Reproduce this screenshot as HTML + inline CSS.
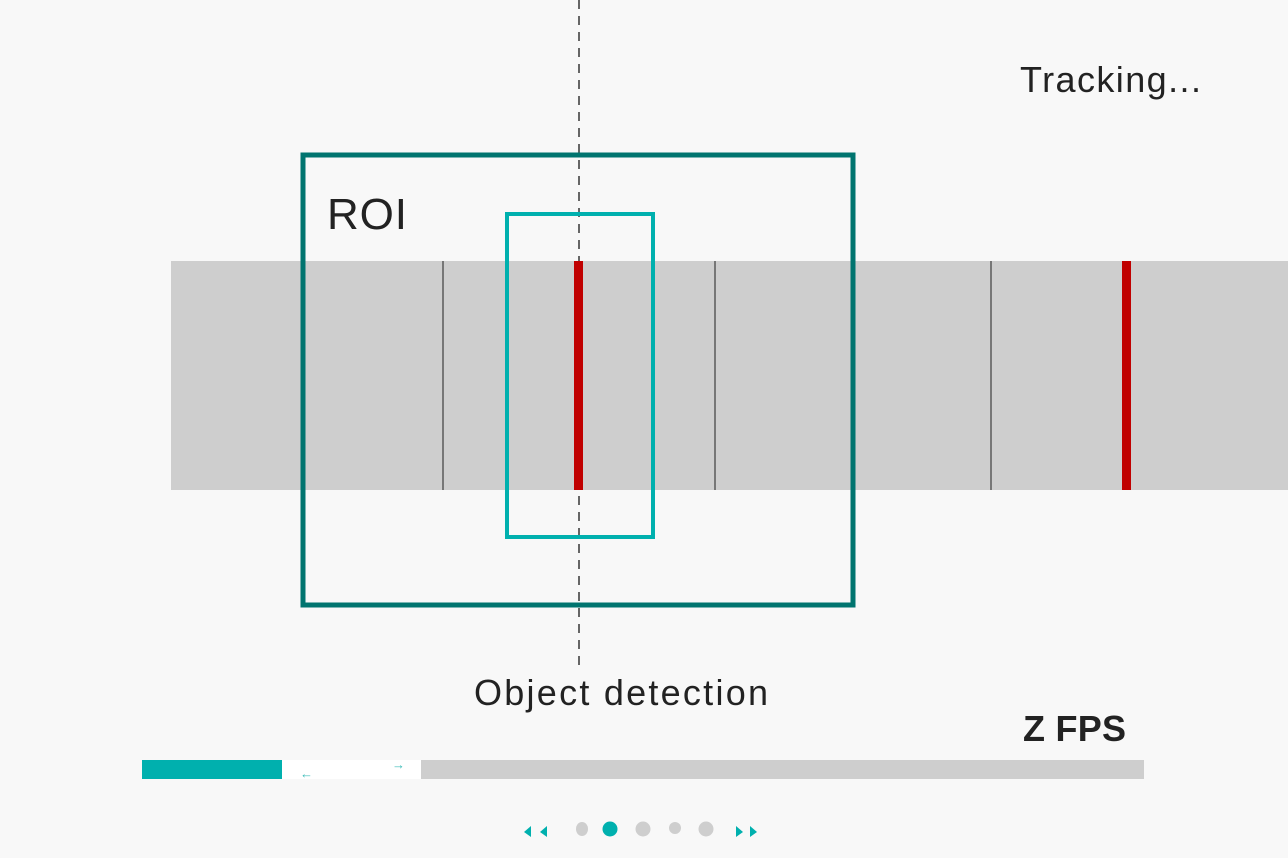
<!DOCTYPE html><html><head><style>body{margin:0;background:#f8f8f8}svg{display:block}text{font-family:"Liberation Sans",sans-serif;fill:#222}</style></head><body>
<svg width="1288" height="858" viewBox="0 0 1288 858">
<rect width="1288" height="858" fill="#f8f8f8"/>
<rect x="171" y="261" width="1117" height="229" fill="#cecece"/>
<g stroke="#777" stroke-width="2"><line x1="443" y1="261" x2="443" y2="490"/><line x1="715" y1="261" x2="715" y2="490"/><line x1="991" y1="261" x2="991" y2="490"/></g>
<line x1="579" y1="0" x2="579" y2="668" stroke="#666" stroke-width="2" stroke-dasharray="9,7"/>
<g fill="#c00000"><rect x="574" y="261" width="9" height="229"/><rect x="1122" y="261" width="9" height="229"/></g>
<rect x="303" y="155" width="550" height="450" fill="none" stroke="#00746f" stroke-width="5"/>
<rect x="507" y="214" width="146" height="323" fill="none" stroke="#00b0ae" stroke-width="4"/>
<text x="327" y="229" font-size="44" textLength="80">ROI</text>
<text x="1020" y="92" font-size="36" textLength="181">Tracking...</text>
<text x="474" y="705" font-size="36" textLength="294">Object detection</text>
<text x="1023" y="741" font-size="36" font-weight="bold" textLength="103">Z FPS</text>
<rect x="142" y="760" width="140" height="19" fill="#00b0ae"/>
<rect x="282" y="760" width="139" height="19" fill="#fff"/>
<rect x="421" y="760" width="723" height="19" fill="#cecece"/>
<text x="300" y="778" font-size="13" style="fill:#3cbcb8">←</text>
<text x="392" y="769" font-size="13" style="fill:#3cbcb8">→</text>
<g fill="#00b0ae"><polygon points="524,832 531,826 531,837"/><polygon points="540,832 547,826 547,837"/><polygon points="736,826 743,832 736,837"/><polygon points="750,826 757,832 750,837"/></g>
<g fill="#cecece"><ellipse cx="582" cy="829" rx="6" ry="7"/><circle cx="643" cy="829" r="7.5"/><circle cx="675" cy="828" r="6"/><circle cx="706" cy="829" r="7.5"/></g>
<circle cx="610" cy="829" r="7.5" fill="#00b0ae"/>
</svg></body></html>
